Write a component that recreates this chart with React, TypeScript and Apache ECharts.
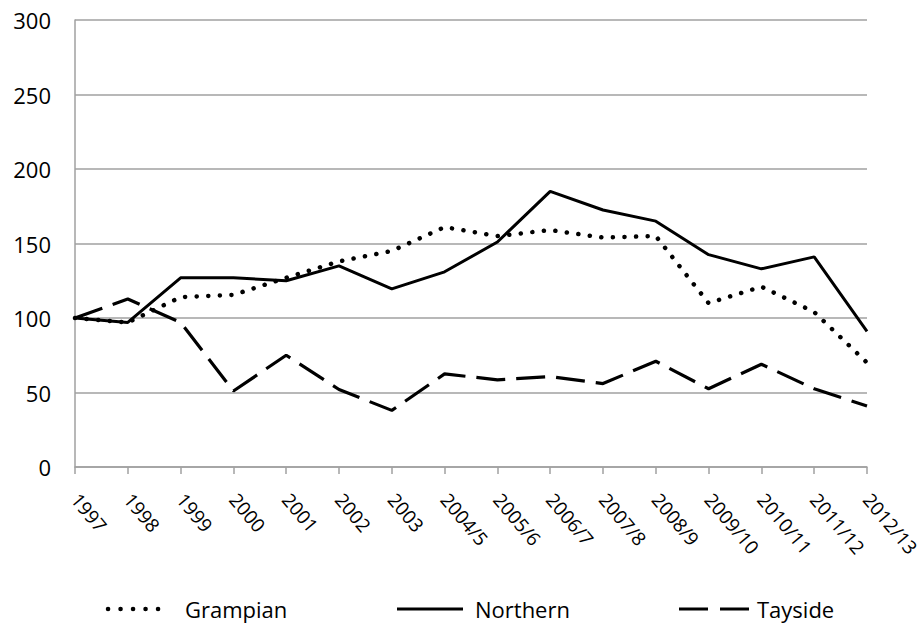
import React, { useEffect, useRef } from "react";
import * as echarts from "echarts";

const categories = [
  "1997", "1998", "1999", "2000", "2001", "2002", "2003", "2004/5",
  "2005/6", "2006/7", "2007/8", "2008/9", "2009/10", "2010/11", "2011/12", "2012/13",
];
const grampian = [100, 97, 114, 115.5, 127, 138, 145, 161, 155, 159, 154, 155, 110, 121, 104, 70];
const northern = [100, 97, 127, 127, 125, 135, 119.5, 131, 151, 185, 172.5, 165, 142.5, 133, 141, 91];
const tayside = [100, 112.7, 97, 51, 75, 52, 38, 62.5, 58.5, 60.7, 56, 71, 52.5, 69, 52.5, 41];
const yTicks = { min: 0, max: 300, interval: 50 };
const legendNames = ["Grampian", "Northern", "Tayside"];

const FONT = "'Open Sans', 'Noto Sans', sans-serif";
const GRAY = "#a0a0a0";

const styles = {
  Grampian: { width: 4.5, dash: [0.1, 11.5] as number[] | null, cap: "round" },
  Northern: { width: 3, dash: null as number[] | null, cap: "butt" },
  Tayside: { width: 3.2, dash: [29, 11] as number[] | null, cap: "butt" },
};

export default function App() {
  const ref = useRef<HTMLDivElement>(null);
  useEffect(() => {
    if (!ref.current) return;
    const chart = echarts.init(ref.current, null, { renderer: "svg" });
    const legendPos = [
      { x1: 108, x2: 170, tx: 185, dash: [0.1, 12.4] },
      { x1: 397, x2: 463, tx: 475, dash: null },
      { x1: 679, x2: 749, tx: 757, dash: [29, 12] },
    ];
    const legendY = 609;
    const graphics: any[] = [];
    legendNames.forEach((name, i) => {
      const st = (styles as any)[name];
      const p = legendPos[i];
      graphics.push({
        type: "line",
        shape: { x1: p.x1, y1: legendY, x2: p.x2, y2: legendY },
        style: {
          stroke: "#000",
          lineWidth: st.width,
          lineDash: p.dash || undefined,
          lineCap: st.cap,
        },
      });
      graphics.push({
        type: "text",
        x: p.tx,
        y: legendY,
        style: {
          text: name,
          fontFamily: FONT,
          fontSize: 22,
          fill: "#000",
          verticalAlign: "middle",
        },
      });
    });
    chart.setOption({
      animation: false,
      backgroundColor: "#ffffff",
      textStyle: { fontFamily: FONT },
      grid: { left: 75, right: 56, top: 20, bottom: 159, containLabel: false, outerBoundsMode: "none" },
      xAxis: {
        type: "category",
        data: categories,
        boundaryGap: false,
        axisLine: { lineStyle: { color: GRAY, width: 1.5 } },
        axisTick: { show: true, length: 7, lineStyle: { color: GRAY, width: 1.5 } },
        axisLabel: {
          rotate: -50,
          margin: 29,
          interval: 0,
          fontFamily: FONT,
          fontSize: 19,
          color: "#000",
        },
        splitLine: { show: false },
      },
      yAxis: {
        type: "value",
        min: yTicks.min,
        max: yTicks.max,
        interval: yTicks.interval,
        axisLine: { show: true, lineStyle: { color: GRAY, width: 1.5 } },
        axisTick: { show: false },
        axisLabel: { margin: 24, fontFamily: FONT, fontSize: 22, color: "#000" },
        splitLine: { show: true, lineStyle: { color: GRAY, width: 1.5 } },
      },
      graphic: graphics,
      series: legendNames.map((name, i) => {
        const st = (styles as any)[name];
        return {
          name,
          type: "line",
          data: [grampian, northern, tayside][i],
          symbol: "none",
          showSymbol: false,
          lineStyle: {
            color: "#000",
            width: st.width,
            type: st.dash || "solid",
            cap: st.cap,
          },
          itemStyle: { color: "#000" },
        };
      }),
    });
    return () => chart.dispose();
  }, []);
  return <div ref={ref} style={{ width: 923, height: 626, position: "fixed", left: 0, top: 0 }} />;
}
